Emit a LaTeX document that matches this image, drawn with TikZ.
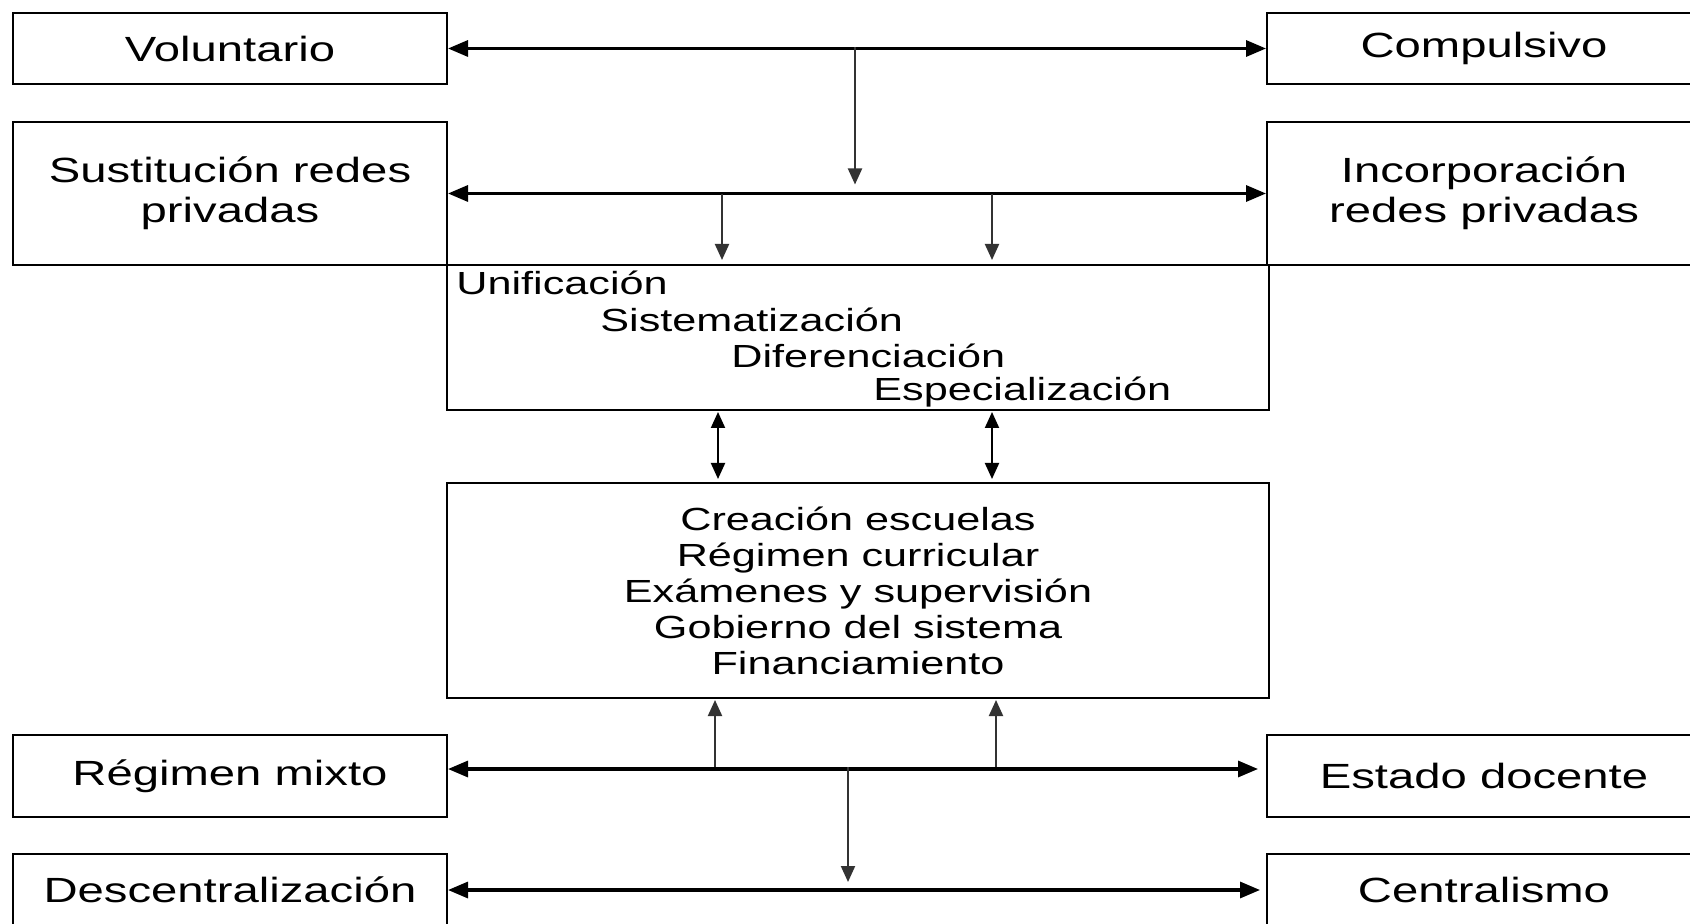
\documentclass[tikz,border=0pt]{standalone}
\usepackage{fontspec}
\setmainfont{Liberation Sans}[FakeStretch=1.35]
\usetikzlibrary{arrows.meta}
\begin{document}
\begin{tikzpicture}[x=0.5pt,y=-0.5pt,
  box/.style={draw, line width=1pt, inner sep=0pt, minimum width=217pt, align=center,
    font=\fontsize{17.5pt}{20pt}\selectfont},
  midbox/.style={draw, line width=1pt, inner sep=0pt, minimum width=411pt, align=center,
    font=\fontsize{16pt}{18pt}\selectfont},
  lbl/.style={inner sep=0pt, anchor=west, font=\fontsize{16pt}{18pt}\selectfont},
  hline/.style={line width=1.6pt, {Triangle[length=10pt,width=8pt]}-{Triangle[length=10pt,width=8pt]}},
  vline/.style={line width=1pt, draw=black!80, -{Triangle[length=8pt,width=7pt]}},
  dline/.style={line width=1pt, {Triangle[length=8pt,width=7pt]}-{Triangle[length=8pt,width=7pt]}},
]
\useasboundingbox (0,0) rectangle (1690,924);
% side boxes
\node[box, minimum height=35.5pt] (vol)  at (230,48.5)  {Voluntario};
\node[box, minimum height=35.5pt] (comp) at (1484,48.5) {Compulsivo};
\node[box, minimum height=71.5pt] (sus)  at (230,193.5) {Sustitución redes\\privadas};
\node[box, minimum height=71.5pt] (inc)  at (1484,193.5) {Incorporación\\redes privadas};
\node[box, minimum height=41pt]   (reg)  at (230,776)   {Régimen mixto};
\node[box, minimum height=41pt]   (est)  at (1484,776)  {Estado docente};
\node[box, minimum height=36pt]   (desc) at (230,890)   {Descentralización};
\node[box, minimum height=36pt]   (cent) at (1484,890)  {Centralismo};
% middle boxes
\node[midbox, minimum height=72.5pt] (proc) at (858,337.5) {};
\node[lbl] (l1) at (456,283) {Unificación};
\node[lbl] (l2) at (600,320) {Sistematización};
\node[lbl] (l3) at (731,356) {Diferenciación};
\node[lbl] (l4) at (873,392) {Especialización};
\node[midbox, minimum height=107.5pt] (inst) at (858,590.5)
  {Creación escuelas\\Régimen curricular\\Exámenes y supervisión\\Gobierno del sistema\\Financiamiento};
% horizontal arrows
\draw[hline] (vol.east) -- (comp.west);
\draw[hline] (sus.east) -- (inc.west);
\draw[hline, shorten >=4pt] ([yshift=3.5pt]reg.east) -- ([yshift=3.5pt]reg.east -| est.west);
\draw[hline, shorten >=3pt] (desc.east) -- (cent.west);
% vertical arrows
\coordinate (t1) at (855,47.5);
\draw[vline, shorten >=4.5pt] (t1) -- (t1 |- sus.east);
\coordinate (d1) at (722,194);
\coordinate (d2) at (992,194);
\draw[vline, shorten >=2pt] (d1) -- (d1 |- proc.north);
\draw[vline, shorten >=2pt] (d2) -- (d2 |- proc.north);
\coordinate (u1) at (718,410);
\coordinate (u2) at (992,410);
\draw[dline, shorten <=1pt, shorten >=1.5pt] (u1) -- (u1 |- inst.north);
\draw[dline, shorten <=1pt, shorten >=1.5pt] (u2) -- (u2 |- inst.north);
\coordinate (r1) at (715,767);
\coordinate (r2) at (996,767);
\draw[vline, shorten >=0.5pt] (r1) -- (r1 |- inst.south);
\draw[vline, shorten >=0.5pt] (r2) -- (r2 |- inst.south);
\coordinate (r3) at (848,767);
\draw[vline, shorten >=4pt] (r3) -- (r3 |- desc.east);
\end{tikzpicture}
\end{document}
